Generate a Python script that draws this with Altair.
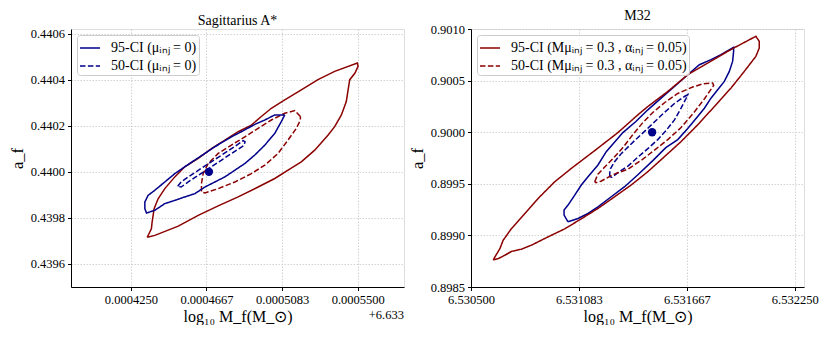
import altair as alt
import pandas as pd

# ---------------- data ----------------
# Sagittarius A*: x is log10 Mf minus the axis offset 6.633
SGR_OFFSET_TEXT = "+6.633"
SGR_X_TICKS = [0.000425, 0.00046666667, 0.00050833333, 0.00055]
SGR_Y_TICKS = [0.4396, 0.4398, 0.4400, 0.4402, 0.4404, 0.4406]
SGR_X_DOMAIN = [0.000392, 0.0005755]
SGR_Y_DOMAIN = [0.43950, 0.44062]

SGR_RED95_X = [0.0004340, 0.0004382, 0.0004511, 0.0004621, 0.0004731, 0.0004841, 0.0004951, 0.0005043,
               0.0005116, 0.0005189, 0.0005263, 0.0005337, 0.0005373, 0.0005410, 0.0005437, 0.0005447,
               0.0005456, 0.0005484, 0.0005502, 0.0005498, 0.0005373, 0.0005281, 0.0005189, 0.0005098,
               0.0005024, 0.0004969, 0.0004914, 0.0004841, 0.0004768, 0.0004694, 0.0004621, 0.0004547,
               0.0004492, 0.0004437, 0.0004400, 0.0004378, 0.0004367, 0.0004363]
SGR_RED95_Y = [0.439716, 0.439724, 0.439764, 0.439811, 0.439852, 0.439891, 0.439934, 0.439971,
               0.440007, 0.440043, 0.440094, 0.440160, 0.440196, 0.440247, 0.440305, 0.440356,
               0.440400, 0.440428, 0.440458, 0.440472, 0.440436, 0.440400, 0.440356, 0.440312,
               0.440276, 0.440240, 0.440203, 0.440174, 0.440138, 0.440101, 0.440058, 0.440022,
               0.439978, 0.439927, 0.439883, 0.439840, 0.439782, 0.439753]
SGR_RED50_X = [0.0005184, 0.0005153, 0.0005098, 0.0005024, 0.0004951, 0.0004878, 0.0004804, 0.0004731,
               0.0004676, 0.0004648, 0.0004639, 0.0004639, 0.0004658, 0.0004731, 0.0004823, 0.0004914,
               0.0004988, 0.0005061, 0.0005116, 0.0005162, 0.0005184]
SGR_RED50_Y = [0.440240, 0.440266, 0.440254, 0.440225, 0.440189, 0.440152, 0.440116, 0.440080,
               0.440036, 0.439992, 0.439949, 0.439913, 0.439908, 0.439927, 0.439956, 0.439992,
               0.440029, 0.440080, 0.440138, 0.440189, 0.440225]
SGR_BLUE95_X = [0.0005098, 0.0005043, 0.0004988, 0.0004933, 0.0004878, 0.0004804, 0.0004713, 0.0004658,
                0.0004602, 0.0004547, 0.0004492, 0.0004437, 0.0004382, 0.0004345, 0.0004327, 0.0004327,
                0.0004336, 0.0004382, 0.0004437, 0.0004492, 0.0004547, 0.0004602, 0.0004658, 0.0004713,
                0.0004768, 0.0004823, 0.0004878, 0.0004933, 0.0004988, 0.0005043, 0.0005079]
SGR_BLUE95_Y = [0.440247, 0.440247, 0.440225, 0.440206, 0.440182, 0.440152, 0.440109, 0.440080,
                0.440051, 0.440022, 0.439992, 0.439956, 0.439920, 0.439898, 0.439869, 0.439840,
                0.439821, 0.439833, 0.439862, 0.439876, 0.439891, 0.439905, 0.439934, 0.439956,
                0.439978, 0.440007, 0.440036, 0.440073, 0.440116, 0.440167, 0.440218]
SGR_BLUE50_X = [0.0004508, 0.0004527, 0.0004566, 0.0004621, 0.0004676, 0.0004731, 0.0004786, 0.0004841,
                0.0004868, 0.0004879, 0.0004874, 0.0004841, 0.0004786, 0.0004731, 0.0004676, 0.0004621,
                0.0004566, 0.0004527]
SGR_BLUE50_Y = [0.439937, 0.439956, 0.439978, 0.440006, 0.440035, 0.440063, 0.440091, 0.440120,
                0.440135, 0.440131, 0.440115, 0.440098, 0.440070, 0.440041, 0.440013, 0.439985,
                0.439956, 0.439934]
SGR_TRUE = [0.000468, 0.4400]

# M32
M32_X_TICKS = [6.5305, 6.53108333, 6.53166667, 6.53225]
M32_Y_TICKS = [0.8985, 0.8990, 0.8995, 0.9000, 0.9005, 0.9010]
M32_X_DOMAIN = [6.5305, 6.5323]
M32_Y_DOMAIN = [0.8985, 0.9010]

M32_RED95_X = [6.5306202, 6.5306294, 6.5306563, 6.5306741, 6.5307189, 6.5307911, 6.5308628, 6.5309529,
               6.5310424, 6.5311685, 6.5312941, 6.5314020, 6.5314559, 6.5315637, 6.5316715, 6.5317794,
               6.5318872, 6.5319680, 6.5320398, 6.5320581, 6.5320581, 6.5320398, 6.5319772, 6.5319050,
               6.5318155, 6.5317254, 6.5316354, 6.5315459, 6.5314559, 6.5313658, 6.5312763, 6.5311863,
               6.5310963, 6.5310068, 6.5309167, 6.5308267, 6.5307728, 6.5307189, 6.5306833, 6.5306472]
M32_RED95_Y = [0.8987624, 0.8987916, 0.8988722, 0.8989538, 0.8990665, 0.8992123, 0.8993580, 0.8995203,
               0.8996495, 0.8998214, 0.8999963, 0.9001683, 0.9002489, 0.9003947, 0.9005569, 0.9006697,
               0.9007833, 0.9008611, 0.9009291, 0.9008805, 0.9008154, 0.9007348, 0.9005890, 0.9004268,
               0.9002489, 0.9000712, 0.8999089, 0.8997631, 0.8996174, 0.8994882, 0.8993745, 0.8992608,
               0.8991607, 0.8990636, 0.8989859, 0.8989052, 0.8988663, 0.8988450, 0.8988081, 0.8987750]
M32_RED50_X = [6.5311685, 6.5311863, 6.5312241, 6.5312672, 6.5313211, 6.5313750, 6.5314289, 6.5314828,
               6.5315475, 6.5316176, 6.5316985, 6.5317524, 6.5318063, 6.5318117, 6.5317632, 6.5317093,
               6.5316354, 6.5315637, 6.5314920, 6.5314289, 6.5313481, 6.5312672, 6.5312025, 6.5311755]
M32_RED50_Y = [0.8995203, 0.8995931, 0.8996660, 0.8997437, 0.8998506, 0.8999769, 0.9000935, 0.9001907,
               0.9002878, 0.9003753, 0.9004384, 0.9004676, 0.9004773, 0.9004530, 0.9003267, 0.9002004,
               0.9000449, 0.8999283, 0.8998263, 0.8997389, 0.8996417, 0.8995883, 0.8995251, 0.8995105]
M32_BLUE95_X = [6.5310246, 6.5310785, 6.5311324, 6.5311863, 6.5312580, 6.5313303, 6.5314020, 6.5314828,
                6.5315529, 6.5316176, 6.5316715, 6.5317163, 6.5317616, 6.5317972, 6.5318333, 6.5318694,
                6.5318963, 6.5319141, 6.5319195, 6.5319195, 6.5318511, 6.5317972, 6.5317346, 6.5316715,
                6.5315998, 6.5315276, 6.5314559, 6.5313912, 6.5313211, 6.5312311, 6.5311863, 6.5311324,
                6.5310963, 6.5310607, 6.5310246, 6.5310030, 6.5310030]
M32_BLUE95_Y = [0.8991316, 0.8991637, 0.8992123, 0.8992773, 0.8993745, 0.8994717, 0.8995883, 0.8997243,
                0.8998506, 0.8999283, 0.9000352, 0.9001324, 0.9002324, 0.9003296, 0.9004112, 0.9004919,
                0.9005890, 0.9006862, 0.9007833, 0.9008222, 0.9007513, 0.9007027, 0.9006541, 0.9005569,
                0.9004433, 0.9003296, 0.9002169, 0.9001032, 0.8999963, 0.8998117, 0.8996825, 0.8995688,
                0.8994882, 0.8993910, 0.8992939, 0.8992453, 0.8991967]
M32_BLUE50_X = [6.5312494, 6.5312510, 6.5312763, 6.5313119, 6.5313842, 6.5314559, 6.5315276, 6.5315998,
                6.5316537, 6.5316715, 6.5316624, 6.5316354, 6.5315998, 6.5315545, 6.5315098, 6.5314559,
                6.5314020, 6.5313481, 6.5312941, 6.5312618]
M32_BLUE50_Y = [0.8995688, 0.8996368, 0.8997146, 0.8997923, 0.8999186, 0.9000381, 0.9001615, 0.9002781,
                0.9003461, 0.9003626, 0.9003267, 0.9002324, 0.9001197, 0.9000158, 0.8999283, 0.8998409,
                0.8997583, 0.8996709, 0.8996077, 0.8995640]
M32_TRUE = [6.531479, 0.9000]

SGR_LABELS = ["95-CI (μᵢₙⱼ = 0)", "50-CI (μᵢₙⱼ = 0)"]
M32_LABELS = ["95-CI (Mμᵢₙⱼ = 0.3 , αᵢₙⱼ = 0.05)", "50-CI (Mμᵢₙⱼ = 0.3 , αᵢₙⱼ = 0.05)"]
X_TITLE = "log₁₀ M_f(M_⊙)"
Y_TITLE = "a_f"

# ---------------- styling ----------------
SERIF = "Liberation Serif"
NAVY = "#00008b"
DRED = "#8b0000"
DASH = [5.5, 2.4]
SOLID = [1, 0]
LW = 1.5
W, H = 333, 258


def curve_df(xs, ys, label):
    assert len(xs) == len(ys)
    xs = list(xs) + [xs[0]]
    ys = list(ys) + [ys[0]]
    return pd.DataFrame({"x": xs, "y": ys, "order": list(range(len(xs))), "label": label})


def axis(values, fmt, title, title_pad, title_size):
    return alt.Axis(values=values, format=fmt, title=title, labelFlush=False, labelOverlap=False,
                    labelFont=SERIF, labelFontSize=12.5, labelColor="black", labelPadding=3,
                    titleFont=SERIF, titleFontSize=title_size, titleFontWeight="normal", titleColor="black",
                    titlePadding=title_pad, tickColor="black", tickSize=3.5, domainColor="black",
                    gridColor="#c8c8c8", gridDash=[1.5, 1.5], gridWidth=0.8)


def panel(title, xdom, ydom, xticks, yticks, xfmt, yfmt,
          lab95, lab50, labels, lab_color, oth95, oth50, oth_color, truth, offset_text=None):
    xs = alt.Scale(domain=xdom, zero=False, nice=False)
    ys = alt.Scale(domain=ydom, zero=False, nice=False)
    xenc = alt.X("x:Q", scale=xs, axis=axis(xticks, xfmt, X_TITLE, 2, 16))
    yenc = alt.Y("y:Q", scale=ys, axis=axis(yticks, yfmt, Y_TITLE, 5, 16.5))
    o95 = alt.Chart(curve_df(*oth95, "o95")).mark_line(
        color=oth_color, strokeWidth=LW).encode(x=xenc, y=yenc, order="order:Q")
    o50 = alt.Chart(curve_df(*oth50, "o50")).mark_line(
        color=oth_color, strokeWidth=LW, strokeDash=DASH).encode(x=xenc, y=yenc, order="order:Q")
    ldf = pd.concat([curve_df(*lab95, labels[0]), curve_df(*lab50, labels[1])])
    leg = alt.Legend(title=None, orient="top-left", offset=6, padding=2,
                     fillColor="rgba(255,255,255,0.8)", strokeColor="#cccccc", cornerRadius=3,
                     labelFont=SERIF, labelFontSize=14, labelColor="black", labelLimit=500,
                     symbolType="stroke", symbolSize=400, symbolStrokeWidth=LW,
                     labelOffset=10, rowPadding=0)
    lab = alt.Chart(ldf).mark_line(strokeWidth=LW).encode(
        x=xenc, y=yenc, order="order:Q", detail="label:N",
        color=alt.Color("label:N", scale=alt.Scale(domain=labels, range=[lab_color, lab_color]),
                        legend=leg, sort=labels),
        strokeDash=alt.StrokeDash("label:N", scale=alt.Scale(domain=labels, range=[SOLID, DASH]),
                                  legend=leg, sort=labels),
    )
    dot = alt.Chart(pd.DataFrame({"x": [truth[0]], "y": [truth[1]]})).mark_point(
        filled=True, size=70, color=NAVY, opacity=1).encode(x=xenc, y=yenc)
    layers = [o95, o50, lab, dot]
    if offset_text:
        txt = alt.Chart(pd.DataFrame({"t": [offset_text]})).mark_text(
            align="right", baseline="middle", font=SERIF, fontSize=12.5, color="black").encode(
            x=alt.value(W), y=alt.value(H + 28), text="t:N")
        layers.append(txt)
    return alt.layer(*layers).resolve_scale(color="independent", strokeDash="independent").properties(
        width=W, height=H,
        title=alt.TitleParams(title, font=SERIF, fontSize=14, fontWeight="normal", offset=0, color="black"))


left = panel("Sagittarius A*", SGR_X_DOMAIN, SGR_Y_DOMAIN, SGR_X_TICKS, SGR_Y_TICKS, ".7f", ".4f",
             (SGR_BLUE95_X, SGR_BLUE95_Y), (SGR_BLUE50_X, SGR_BLUE50_Y), SGR_LABELS, NAVY,
             (SGR_RED95_X, SGR_RED95_Y), (SGR_RED50_X, SGR_RED50_Y), DRED, SGR_TRUE,
             offset_text=SGR_OFFSET_TEXT)
right = panel("M32", M32_X_DOMAIN, M32_Y_DOMAIN, M32_X_TICKS, M32_Y_TICKS, ".6f", ".4f",
              (M32_RED95_X, M32_RED95_Y), (M32_RED50_X, M32_RED50_Y), M32_LABELS, DRED,
              (M32_BLUE95_X, M32_BLUE95_Y), (M32_BLUE50_X, M32_BLUE50_Y), NAVY, M32_TRUE)

chart = alt.hconcat(left, right, spacing=3).resolve_scale(
    color="independent", strokeDash="independent", x="independent", y="independent"
).resolve_legend(color="independent", strokeDash="independent").properties(
    padding=0
).configure_view(
    stroke="black", strokeWidth=1
).configure(background="white")

chart.save("out.html", embed_options={"renderer": "svg", "actions": False})
